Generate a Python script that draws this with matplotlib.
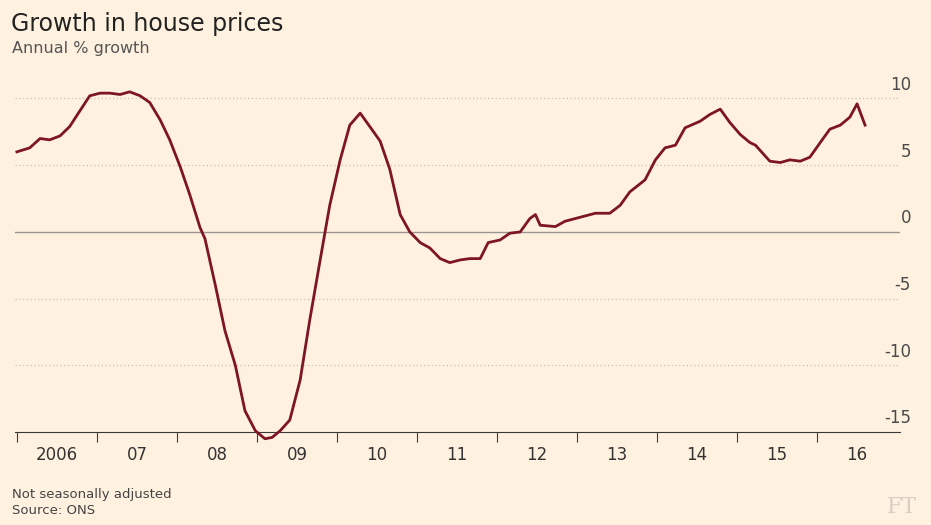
import numpy as np
import matplotlib.pyplot as plt

# pixel-read estimates, converted to decimal year / annual % growth
years = [2006.0, 2006.16, 2006.29, 2006.41, 2006.54, 2006.66, 2006.79, 2006.91, 2007.04, 2007.16,
         2007.29, 2007.41, 2007.54, 2007.66, 2007.79, 2007.91, 2008.04, 2008.16, 2008.29, 2008.35,
         2008.48, 2008.6, 2008.73, 2008.85, 2008.98, 2009.1, 2009.19, 2009.29, 2009.41, 2009.54,
         2009.66, 2009.79, 2009.91, 2010.04, 2010.16, 2010.29, 2010.41, 2010.54, 2010.66, 2010.79,
         2010.91, 2011.04, 2011.16, 2011.29, 2011.41, 2011.54, 2011.66, 2011.79, 2011.89, 2012.04,
         2012.16, 2012.29, 2012.41, 2012.48, 2012.54, 2012.73, 2012.85, 2013.04, 2013.23, 2013.41,
         2013.54, 2013.66, 2013.85, 2013.98, 2014.1, 2014.23, 2014.35, 2014.54, 2014.66, 2014.79,
         2014.91, 2015.04, 2015.16, 2015.23, 2015.41, 2015.54, 2015.66, 2015.79, 2015.91, 2016.04,
         2016.16, 2016.29, 2016.41, 2016.5, 2016.6]
growth = [6.0, 6.3, 7.0, 6.9, 7.2, 7.9, 9.1, 10.2, 10.4, 10.4,
          10.3, 10.5, 10.2, 9.7, 8.4, 6.9, 4.9, 2.8, 0.3, -0.5,
          -4.0, -7.4, -10.0, -13.4, -14.9, -15.5, -15.4, -14.9, -14.1, -11.1,
          -6.6, -2.1, 2.0, 5.4, 8.0, 8.9, 7.9, 6.8, 4.7, 1.3,
          0.0, -0.8, -1.2, -2.0, -2.3, -2.1, -2.0, -2.0, -0.8, -0.6,
          -0.1, 0.0, 1.0, 1.3, 0.5, 0.4, 0.8, 1.1, 1.4, 1.4,
          2.0, 3.0, 3.9, 5.4, 6.3, 6.5, 7.8, 8.3, 8.8, 9.2,
          8.2, 7.3, 6.7, 6.5, 5.3, 5.2, 5.4, 5.3, 5.6, 6.7,
          7.7, 8.0, 8.6, 9.6, 8.0]
year_labels = ["2006", "07", "08", "09", "10", "11", "12", "13", "14", "15", "16"]
yticks = [-15, -10, -5, 0, 5, 10]

bg = "#fff1e0"
fig = plt.figure(figsize=(9.31, 5.25), dpi=100, facecolor=bg)
ax = fig.add_axes([0.016, 0.177, 0.951, 0.671], facecolor=bg)

ax.plot(years, growth, color="#7d1524", lw=2.0, solid_joinstyle="round", clip_on=False, zorder=3)
ax.set_xlim(2005.975, 2017.04)
ax.set_ylim(-15, 11.4)

for v in yticks:
    if v == 0:
        ax.axhline(v, color="#9a9590", lw=1.0, zorder=0)
    elif v > -15:
        ax.axhline(v, color="#c9c0b5", lw=0.9, ls=(0, (1, 2)), zorder=0)
    ax.text(1.012, v + 0.35, str(v), transform=ax.get_yaxis_transform(),
            ha="right", va="bottom", fontsize=12, color="#4a4a4a")

for s in ["top", "right", "left"]:
    ax.spines[s].set_visible(False)
ax.spines["bottom"].set_color("#3a3a3a")
ax.set_yticks([])
ax.set_xticks(np.arange(2006, 2017))
ax.tick_params(axis="x", which="major", length=7, color="#3a3a3a", labelbottom=False)
ax.set_xticks(np.arange(2006, 2017) + 0.5, minor=True)
ax.set_xticklabels(year_labels, minor=True)
ax.tick_params(axis="x", which="minor", length=0, labelsize=12, labelcolor="#333333", pad=10)

fig.text(0.012, 0.955, "Growth in house prices", fontsize=17, color="#222222", va="center")
fig.text(0.013, 0.908, "Annual % growth", fontsize=11.5, color="#555555", va="center")
fig.text(0.013, 0.058, "Not seasonally adjusted", fontsize=9.5, color="#444444", va="center")
fig.text(0.013, 0.027, "Source: ONS", fontsize=9.5, color="#444444", va="center")
fig.text(0.985, 0.035, "FT", fontsize=16, color="#d8cfc4", family="DejaVu Serif",
         ha="right", va="center")

fig.savefig("out.png", dpi=100, facecolor=bg)
